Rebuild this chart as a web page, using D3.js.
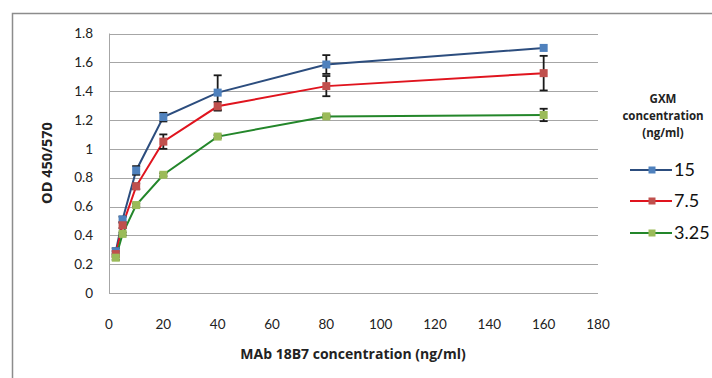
<!DOCTYPE html>
<html>
<head>
<meta charset="utf-8">
<script src="https://cdn.jsdelivr.net/npm/d3@7"></script>
<style>
  body { margin: 0; background: #fff; }
  svg { display: block; font-family: Lato, "Open Sans", sans-serif; }
  .title { font-family: "Open Sans", sans-serif; }
</style>
</head>
<body>
<svg id="chart" width="712" height="378"></svg>
<script>
// concentrations of MAb 18B7 (ng/ml)
const conc = [2.5, 5, 10, 20, 40, 80, 160];

const gxm15 = [0.29, 0.51, 0.85, 1.22, 1.39, 1.585, 1.70];
const gxm15Err = [0.02, 0.02, 0.03, 0.03, 0.12, 0.065, 0];
const gxm75 = [0.27, 0.47, 0.74, 1.05, 1.295, 1.435, 1.525];
const gxm75Err = [0.02, 0.02, 0.02, 0.05, 0.03, 0.07, 0.12];
const gxm325 = [0.245, 0.41, 0.61, 0.82, 1.085, 1.225, 1.235];
const gxm325Err = [0.015, 0.01, 0.01, 0.01, 0.01, 0.01, 0.043];

const seriesNames = ["15", "7.5", "3.25"];
const xTicks = [0, 20, 40, 60, 80, 100, 120, 140, 160, 180];
const yTicks = [0, 0.2, 0.4, 0.6, 0.8, 1, 1.2, 1.4, 1.6, 1.8];

const series = [
  { name: seriesNames[0], vals: gxm15, err: gxm15Err, line: "#2c4d7e", fill: "#4f81bd" },
  { name: seriesNames[1], vals: gxm75, err: gxm75Err, line: "#e0141e", fill: "#c0504d" },
  { name: seriesNames[2], vals: gxm325, err: gxm325Err, line: "#23862a", fill: "#9bbb59" }
];

const svg = d3.select("#chart");

// outer chart border (cut off at right/bottom like the original)
svg.append("rect")
  .attr("x", 12.5).attr("y", 13.5)
  .attr("width", 720).attr("height", 380)
  .attr("fill", "none")
  .attr("stroke", "#8c8c8c")
  .attr("stroke-width", 1.5);

const x = d3.scaleLinear().domain([0, 180]).range([109, 598]);
const y = d3.scaleLinear().domain([0, 1.8]).range([293, 33.5]);

// gridlines
svg.append("g")
  .selectAll("line")
  .data(yTicks)
  .join("line")
  .attr("x1", x(0)).attr("x2", x(180))
  .attr("y1", d => Math.round(y(d)) + 0.5)
  .attr("y2", d => Math.round(y(d)) + 0.5)
  .attr("stroke", "#a6a6a6")
  .attr("stroke-width", 1);

// left axis line
svg.append("line")
  .attr("x1", x(0) + 0.5).attr("x2", x(0) + 0.5)
  .attr("y1", y(1.8)).attr("y2", y(0))
  .attr("stroke", "#a6a6a6");

// y tick labels
svg.append("g")
  .selectAll("text")
  .data(yTicks)
  .join("text")
  .attr("x", 93)
  .attr("y", d => y(d))
  .attr("dy", "0.35em")
  .attr("text-anchor", "end")
  .attr("font-size", 13.5)
  .attr("fill", "#222")
  .text(d => d3.format("")(d));

// x tick labels
svg.append("g")
  .selectAll("text")
  .data(xTicks)
  .join("text")
  .attr("x", d => x(d))
  .attr("y", 324)
  .attr("dy", "0.35em")
  .attr("text-anchor", "middle")
  .attr("font-size", 13.5)
  .attr("fill", "#222")
  .text(d => d);

// axis titles
svg.append("text")
  .attr("class", "title")
  .attr("x", 353).attr("y", 359)
  .attr("text-anchor", "middle")
  .attr("font-size", 14)
  .attr("font-weight", "bold")
  .attr("fill", "#222")
  .text("MAb 18B7 concentration (ng/ml)");

svg.append("text")
  .attr("class", "title")
  .attr("transform", "translate(47,163) rotate(-90)")
  .attr("dy", "0.35em")
  .attr("text-anchor", "middle")
  .attr("font-size", 14.5)
  .attr("font-weight", "bold")
  .attr("fill", "#222")
  .text("OD 450/570");

const line = d3.line()
  .x((d, i) => x(conc[i]))
  .y(d => y(d));

const m = 8; // marker size

series.forEach(s => {
  svg.append("path")
    .datum(s.vals)
    .attr("fill", "none")
    .attr("stroke", s.line)
    .attr("stroke-width", 2)
    .attr("d", line);
});

// error bars
series.forEach(s => {
  const g = svg.append("g").attr("stroke", "#1a1a1a").attr("stroke-width", 1.8);
  s.vals.forEach((v, i) => {
    if (!s.err[i]) return;
    const cx = x(conc[i]);
    const y1 = y(v + s.err[i]), y2 = y(v - s.err[i]);
    g.append("line").attr("x1", cx).attr("x2", cx).attr("y1", y1).attr("y2", y2);
    g.append("line").attr("x1", cx - 4).attr("x2", cx + 4).attr("y1", y1).attr("y2", y1);
    g.append("line").attr("x1", cx - 4).attr("x2", cx + 4).attr("y1", y2).attr("y2", y2);
  });
});

// markers
series.forEach(s => {
  svg.append("g")
    .selectAll("rect")
    .data(s.vals)
    .join("rect")
    .attr("x", (d, i) => x(conc[i]) - m / 2)
    .attr("y", d => y(d) - m / 2)
    .attr("width", m).attr("height", m)
    .attr("fill", s.fill);
});

// legend
const legTitle = ["GXM", "concentration", "(ng/ml)"];
svg.append("g")
  .selectAll("text")
  .data(legTitle)
  .join("text")
  .attr("class", "title")
  .attr("x", 663)
  .attr("y", (d, i) => 99 + i * 17)
  .attr("dy", "0.35em")
  .attr("text-anchor", "middle")
  .attr("font-size", 11.5)
  .attr("font-weight", "bold")
  .attr("fill", "#222")
  .text(d => d);

const legY = [170, 201, 233];
series.forEach((s, i) => {
  const g = svg.append("g");
  g.append("line")
    .attr("x1", 630).attr("x2", 672)
    .attr("y1", legY[i]).attr("y2", legY[i])
    .attr("stroke", s.line).attr("stroke-width", 2);
  g.append("rect")
    .attr("x", 652 - 3.5).attr("y", legY[i] - 3.5)
    .attr("width", 7).attr("height", 7)
    .attr("fill", s.fill);
  g.append("text")
    .attr("x", 674).attr("y", legY[i])
    .attr("dy", "0.35em")
    .attr("font-size", 18)
    .attr("fill", "#111")
    .text(s.name);
});
</script>
</body>
</html>
